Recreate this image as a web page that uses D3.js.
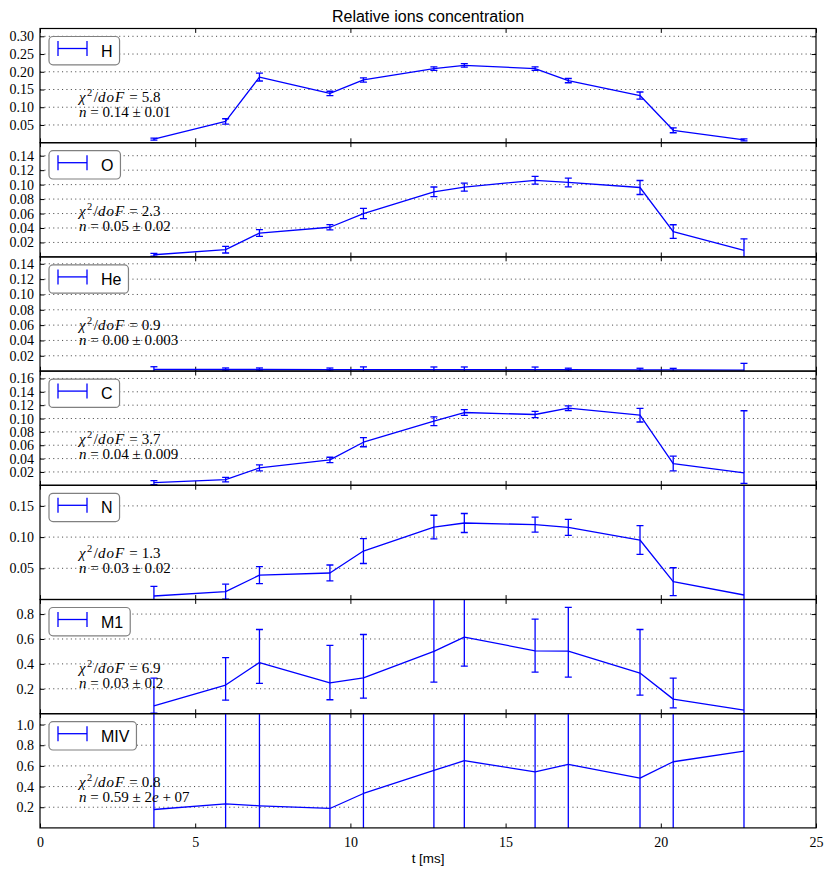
<!DOCTYPE html>
<html>
<head>
<meta charset="utf-8">
<script src="https://cdn.jsdelivr.net/npm/d3@7"></script>
<style>
  html, body { margin: 0; padding: 0; background: #fff; }
  svg { display: block; }
</style>
</head>
<body>
<div id="chart"></div>
<script>
// ---------------- data ----------------
const times = [3.67, 5.98, 7.07, 9.34, 10.42, 12.69, 13.67, 15.95, 17.02, 19.33, 20.40, 22.68];

const ions = ["H", "O", "He", "C", "N", "M1", "MIV"];

const valH  = [0.010, 0.060, 0.185, 0.139, 0.177, 0.209, 0.218, 0.209, 0.175, 0.133, 0.035, 0.008];
const errH  = [0.003, 0.0075, 0.011, 0.006, 0.006, 0.005, 0.005, 0.005, 0.006, 0.010, 0.007, 0.003];

const valO  = [0.003, 0.010, 0.033, 0.041, 0.060, 0.090, 0.0965, 0.106, 0.103, 0.096, 0.035, 0.009];
const errO  = [0.002, 0.0046, 0.0046, 0.0037, 0.007, 0.0067, 0.0055, 0.0053, 0.006, 0.0097, 0.0095, 0.016];

const valHe = [0.0022, 0.0021, 0.0021, 0.0020, 0.0020, 0.0019, 0.0019, 0.0018, 0.0018, 0.0017, 0.0016, 0.0014];
const errHe = [0.0035, 0.002, 0.002, 0.002, 0.0035, 0.0035, 0.0035, 0.0035, 0.002, 0.002, 0.002, 0.0087];

const valC   = [0.004, 0.0085, 0.026, 0.038, 0.0645, 0.096, 0.109, 0.106, 0.1155, 0.105, 0.0326, 0.0186];
const errCLo = [0.003, 0.0035, 0.0045, 0.004, 0.0068, 0.0065, 0.0042, 0.0047, 0.0035, 0.0102, 0.011, 0.0156];
const errCHi = [0.003, 0.0035, 0.0045, 0.004, 0.0068, 0.0065, 0.0042, 0.0047, 0.0035, 0.0102, 0.011, 0.093];

const valN  = [0.0056, 0.0125, 0.039, 0.0425, 0.0777, 0.116, 0.1226, 0.120, 0.1157, 0.0953, 0.0285, 0.0072];
const errN  = [0.0155, 0.012, 0.0136, 0.0128, 0.020, 0.019, 0.0152, 0.012, 0.0128, 0.023, 0.0224, 0.5];

const valM1   = [0.0635, 0.23, 0.411, 0.248, 0.288, 0.50, 0.615, 0.505, 0.503, 0.326, 0.117, 0.029];
const errM1Lo = [0.06, 0.121, 0.168, 0.136, 0.163, 0.246, 0.233, 0.171, 0.209, 0.177, 0.07, 0.5];
const errM1Hi = [0.222, 0.221, 0.265, 0.30, 0.348, 0.6, 0.6, 0.255, 0.35, 0.35, 0.169, 2.0];

const valMIV = [0.178, 0.233, 0.214, 0.188, 0.333, 0.556, 0.65, 0.543, 0.614, 0.481, 0.64, 0.742];
const errMIV = [2e7, 2e7, 2e7, 2e7, 2e7, 2e7, 2e7, 2e7, 2e7, 2e7, 2e7, 2e7];

// fit annotations
const chiValues = ["5.8", "2.3", "0.9", "3.7", "1.3", "6.9", "0.8"];
const nValues   = ["0.14", "0.05", "0.00", "0.04", "0.03", "0.03", "0.59"];
const nErrors   = ["0.01", "0.02", "0.003", "0.009", "0.02", "0.2", "2e+07"];

// y ticks / labels per panel
const ticksH   = [0.05, 0.10, 0.15, 0.20, 0.25, 0.30];
const ticksO   = [0.02, 0.04, 0.06, 0.08, 0.10, 0.12, 0.14];
const ticksHe  = [0.02, 0.04, 0.06, 0.08, 0.10, 0.12, 0.14];
const ticksC   = [0.02, 0.04, 0.06, 0.08, 0.10, 0.12, 0.14, 0.16];
const ticksN   = [0.05, 0.10, 0.15];
const ticksM1  = [0.2, 0.4, 0.6, 0.8];
const ticksMIV = [0.2, 0.4, 0.6, 0.8, 1.0];
const tickDecimals = [2, 2, 2, 2, 2, 1, 1];

const yMax = [0.322, 0.158, 0.149, 0.171, 0.183, 0.917, 1.105];

const xTicks = [0, 5, 10, 15, 20, 25];

const title = "Relative ions concentration";
const xLabel = "t [ms]";

// ---------------- build ----------------
const panels = [
  { vals: valH,   lo: errH,    hi: errH,    ticks: ticksH },
  { vals: valO,   lo: errO,    hi: errO,    ticks: ticksO },
  { vals: valHe,  lo: errHe,   hi: errHe,   ticks: ticksHe },
  { vals: valC,   lo: errCLo,  hi: errCHi,  ticks: ticksC },
  { vals: valN,   lo: errN,    hi: errN,    ticks: ticksN },
  { vals: valM1,  lo: errM1Lo, hi: errM1Hi, ticks: ticksM1 },
  { vals: valMIV, lo: errMIV,  hi: errMIV,  ticks: ticksMIV }
];

const W = 832, H = 876;
const left = 40, right = 816;
const top0 = 28.5, panelH = 114.2;
const blue = "#0000ff";
const serif = "'Liberation Serif', 'Times New Roman', serif";
const sans = "'Liberation Sans', Arial, Helvetica, sans-serif";

const svg = d3.select("#chart").append("svg")
  .attr("width", W).attr("height", H)
  .attr("viewBox", `0 0 ${W} ${H}`);

const x = d3.scaleLinear().domain([0, 25]).range([left, right]);

svg.append("text")
  .attr("x", (left + right) / 2).attr("y", 21.5)
  .attr("text-anchor", "middle")
  .style("font-family", sans).style("font-size", "16px")
  .text(title);

panels.forEach((p, i) => {
  const pt = top0 + i * panelH;
  const pb = pt + panelH;
  const y = d3.scaleLinear().domain([0, yMax[i]]).range([pb, pt]);
  const g = svg.append("g");

  const clipId = "clip" + i;
  svg.append("defs").append("clipPath").attr("id", clipId)
    .append("rect").attr("x", left).attr("y", pt).attr("width", right - left).attr("height", panelH);

  // grid lines (dotted)
  g.append("g").selectAll("line").data(p.ticks).join("line")
    .attr("x1", left).attr("x2", right)
    .attr("y1", d => y(d)).attr("y2", d => y(d))
    .attr("stroke", "#000").attr("stroke-width", 0.7)
    .attr("stroke-dasharray", "1.1,3.3");

  // axes
  const fmt = d3.format("." + tickDecimals[i] + "f");
  const yl = g.append("g").attr("transform", `translate(${left},0)`)
    .call(d3.axisLeft(y).tickValues(p.ticks).tickSize(-4.4).tickPadding(6).tickFormat(fmt));
  const yr = g.append("g").attr("transform", `translate(${right},0)`)
    .call(d3.axisRight(y).tickValues(p.ticks).tickSize(-4.4).tickFormat(""));
  const xt = g.append("g").attr("transform", `translate(0,${pt})`)
    .call(d3.axisTop(x).tickValues(xTicks).tickSize(-4.4).tickFormat(""));
  const xb = g.append("g").attr("transform", `translate(0,${pb})`)
    .call(d3.axisBottom(x).tickValues(xTicks).tickSize(-4.4).tickPadding(9)
      .tickFormat(i === panels.length - 1 ? d3.format("d") : ""));
  [yl, yr, xt, xb].forEach(a => {
    a.select(".domain").remove();
    a.selectAll(".tick line").attr("stroke", "#000").attr("stroke-width", 1);
    a.selectAll("text").attr("fill", "#000").style("font-family", serif).style("font-size", "14px");
  });

  // data
  const clipped = g.append("g").attr("clip-path", `url(#${clipId})`);
  const idx = d3.range(times.length);
  clipped.append("path")
    .datum(idx)
    .attr("fill", "none").attr("stroke", blue).attr("stroke-width", 1.3)
    .attr("stroke-linejoin", "round")
    .attr("d", d3.line().x(k => x(times[k])).y(k => y(p.vals[k])));

  const eb = clipped.append("g").selectAll("g").data(idx).join("g");
  eb.append("line")
    .attr("x1", k => x(times[k])).attr("x2", k => x(times[k]))
    .attr("y1", k => y(p.vals[k] - p.lo[k])).attr("y2", k => y(p.vals[k] + p.hi[k]))
    .attr("stroke", blue).attr("stroke-width", 1.3);
  eb.append("line")
    .attr("x1", k => x(times[k]) - 3.5).attr("x2", k => x(times[k]) + 3.5)
    .attr("y1", k => y(p.vals[k] - p.lo[k])).attr("y2", k => y(p.vals[k] - p.lo[k]))
    .attr("stroke", blue).attr("stroke-width", 1.3);
  eb.append("line")
    .attr("x1", k => x(times[k]) - 3.5).attr("x2", k => x(times[k]) + 3.5)
    .attr("y1", k => y(p.vals[k] + p.hi[k])).attr("y2", k => y(p.vals[k] + p.hi[k]))
    .attr("stroke", blue).attr("stroke-width", 1.3);

  // annotation
  const ax = 79;
  const t1 = g.append("text").attr("x", ax).attr("y", pt + 73)
    .style("font-family", serif).style("font-size", "15px").attr("fill", "#000");
  t1.append("tspan").style("font-style", "italic").text("χ");
  t1.append("tspan").attr("dx", 1.5).attr("dy", -6).style("font-size", "10.5px").text("2");
  t1.append("tspan").attr("dx", 1.5).attr("dy", 6).text("/");
  t1.append("tspan").style("font-style", "italic").style("letter-spacing", "1px").text("doF");
  t1.append("tspan").attr("dx", 4).text("=");
  t1.append("tspan").attr("dx", 4).text(chiValues[i]);

  const t2 = g.append("text").attr("x", ax).attr("y", pt + 88)
    .style("font-family", serif).style("font-size", "15px").attr("fill", "#000");
  t2.append("tspan").style("font-style", "italic").text("n");
  t2.append("tspan").text(" = " + nValues[i] + " ± ");
  const ne = nErrors[i];
  if (ne.includes("e")) {
    const [mant, exp] = ne.split("e");
    t2.append("tspan").text(mant);
    t2.append("tspan").style("font-style", "italic").text("e");
    t2.append("tspan").text(" " + exp.slice(0, 1) + " " + exp.slice(1));
  } else {
    t2.append("tspan").text(ne);
  }

  // legend
  const lg = g.append("g");
  const box = lg.append("rect")
    .attr("x", 49).attr("y", pt + 8).attr("height", 28.3).attr("rx", 4).attr("ry", 4)
    .attr("fill", "#fff").attr("stroke", "#808080").attr("stroke-width", 1.2);
  const ly = pt + 20;
  lg.append("line").attr("x1", 58).attr("x2", 87).attr("y1", ly).attr("y2", ly)
    .attr("stroke", blue).attr("stroke-width", 1.3);
  [58, 87].forEach(cx => lg.append("line").attr("x1", cx).attr("x2", cx)
    .attr("y1", ly - 7.5).attr("y2", ly + 7.5).attr("stroke", blue).attr("stroke-width", 1.3));
  const lt = lg.append("text").attr("x", 101).attr("y", pt + 28)
    .style("font-family", sans).style("font-size", "16px").attr("fill", "#000")
    .text(ions[i]);
  const bw = lt.node().getComputedTextLength();
  box.attr("width", 101 + bw + 7 - 49);

  // frame
  g.append("rect").attr("x", left).attr("y", pt).attr("width", right - left).attr("height", panelH)
    .attr("fill", "none").attr("stroke", "#000").attr("stroke-width", 1.2);
});

svg.append("text")
  .attr("x", (left + right) / 2).attr("y", 863)
  .attr("text-anchor", "middle")
  .style("font-family", sans).style("font-size", "13.4px")
  .text(xLabel);
</script>
</body>
</html>
